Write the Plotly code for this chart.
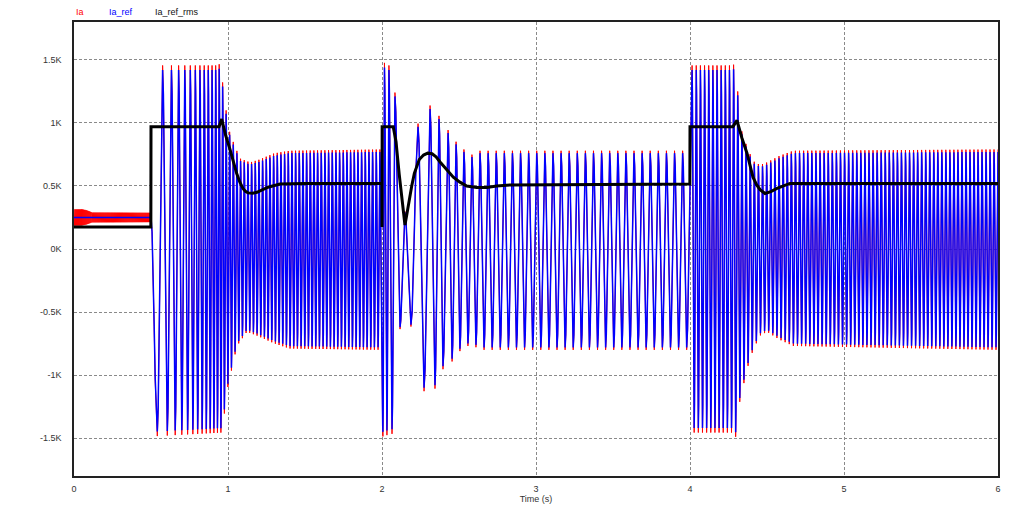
import numpy as np
import plotly.graph_objects as go

# ---------------- values (time in s, current in kA) ----------------
# Ia_ref_rms polyline
rms_t = [0.0, 0.499, 0.5, 0.942, 0.959, 0.985, 1.013, 1.035, 1.056, 1.077, 1.097, 1.113, 1.130, 1.160,
         1.188, 1.26, 1.338, 1.5, 1.999, 2.0, 2.001, 2.073, 2.091, 2.112, 2.134, 2.149, 2.162, 2.177,
         2.193, 2.210, 2.242, 2.270, 2.297, 2.325, 2.351, 2.377, 2.420, 2.463, 2.506, 2.550, 2.615,
         2.680, 2.745, 2.831, 3.999, 4.0, 4.279, 4.305, 4.337, 4.370, 4.409, 4.432, 4.455, 4.487,
         4.525, 4.565, 4.649, 4.75, 6.0]
rms_v = [0.175, 0.175, 0.97, 0.97, 1.03, 0.90, 0.79, 0.69, 0.60, 0.53, 0.48, 0.458, 0.445, 0.443,
         0.45, 0.49, 0.515, 0.52, 0.52, 0.175, 0.97, 0.97, 0.85, 0.59, 0.35, 0.19, 0.28, 0.40,
         0.50, 0.60, 0.71, 0.745, 0.76, 0.755, 0.73, 0.69, 0.63, 0.57, 0.53, 0.50, 0.487,
         0.487, 0.50, 0.508, 0.515, 0.97, 0.97, 1.02, 0.88, 0.76, 0.57, 0.51, 0.47, 0.44,
         0.455, 0.48, 0.52, 0.52, 0.52]

# 0 - 0.5 s : Ia_ref DC level and Ia ripple band half-width
pre_level = 0.25
pre_env_t = [0.0, 0.05, 0.08, 0.10, 0.115, 0.5]
pre_env_h = [0.064, 0.064, 0.056, 0.047, 0.039, 0.037]
pre_ripple_hz = [300.0, 300.0]

# 0.5 - 2.0 s : frequency and envelope
segA_f_t = [0.5, 0.6, 0.7, 0.8, 0.9, 0.95, 1.05, 2.0]
segA_f_v = [11.0, 17.0, 25.0, 33.0, 42.0, 45.0, 42.0, 42.0]
segA_up_t = [0.5, 0.94, 0.955, 0.97, 1.013, 1.078, 1.143, 1.2, 1.3, 1.4, 2.0]
segA_up_v = [1.42, 1.42, 1.47, 1.20, 0.89, 0.70, 0.67, 0.69, 0.74, 0.76, 0.77]
segA_lo_t = [0.5, 0.96, 1.0, 1.058, 1.123, 1.188, 1.3, 1.4, 2.0]
segA_lo_v = [-1.45, -1.42, -1.06, -0.75, -0.64, -0.67, -0.73, -0.77, -0.78]

# 2.0 - 2.61 s : individual extrema of Ia_ref
segB_ext_t = [2.006, 2.016, 2.032, 2.045, 2.065, 2.084, 2.117, 2.149, 2.188, 2.234, 2.273, 2.312,
              2.344, 2.370, 2.396, 2.429, 2.455, 2.481, 2.506, 2.532, 2.558, 2.584, 2.610]
segB_ext_v = [-1.45, 1.44, -1.44, 1.42, -1.43, 1.21, -0.62, 0.29, -0.60, 0.97, -1.10, 1.11,
              -1.08, 1.03, -0.93, 0.92, -0.87, 0.83, -0.79, 0.77, -0.75, 0.73, -0.76]
# 2.61 - 4.0 s : steady part
segB_f_t = [2.61, 4.0]
segB_f_v = [19.0, 19.0]
segB_up_t = [2.61, 4.0]
segB_up_v = [0.76, 0.76]
segB_lo_t = [2.61, 4.0]
segB_lo_v = [-0.78, -0.78]

# 4.0 - 6.0 s
segC_f_t = [4.0, 6.0]
segC_f_v = [37.0, 38.5]
segC_up_t = [4.0, 4.28, 4.30, 4.32, 4.37, 4.41, 4.455, 4.5, 4.58, 4.67, 6.0]
segC_up_v = [1.42, 1.42, 1.46, 0.97, 0.79, 0.68, 0.65, 0.67, 0.72, 0.76, 0.77]
segC_lo_t = [4.0, 4.28, 4.305, 4.32, 4.37, 4.41, 4.455, 4.5, 4.58, 4.67, 6.0]
segC_lo_v = [-1.42, -1.42, -1.47, -1.20, -0.93, -0.78, -0.67, -0.64, -0.70, -0.75, -0.78]

# Ia vs Ia_ref (red slightly larger at the peaks)
ia_gain = 1.025

y_tickvals = [-1.5, -1.0, -0.5, 0.0, 0.5, 1.0, 1.5]
y_ticktext = ["-1.5K", "-1K", "-0.5K", "0K", "0.5K", "1K", "1.5K"]
x_tickvals = [0, 1, 2, 3, 4, 5, 6]
x_ticktext = ["0", "1", "2", "3", "4", "5", "6"]


# ---------------- helpers ----------------
def extrema_times(t0, t1, f_t, f_v):
    tt = np.linspace(t0, t1, 40001)
    f = np.interp(tt, f_t, f_v)
    ph = np.concatenate([[0.0], np.cumsum(0.5 * (f[1:] + f[:-1]) * np.diff(tt))])
    k = np.arange(1, int(ph[-1] * 2) + 1)
    return np.interp(k * 0.5, ph, tt), k


def seg_extrema(t0, t1, f_t, f_v, up_t, up_v, lo_t, lo_v, first_peak):
    et, k = extrema_times(t0, t1, f_t, f_v)
    is_peak = (k % 2 == 1) if first_peak else (k % 2 == 0)
    ev = np.where(is_peak, np.interp(et, up_t, up_v), np.interp(et, lo_t, lo_v))
    return list(et), list(ev)


def wave(ext_t, ext_v, n=6):
    ts, vs = [ext_t[0]], [ext_v[0]]
    s = np.linspace(0, 1, n + 1)[1:]
    for i in range(len(ext_t) - 1):
        ts.extend(ext_t[i] + (ext_t[i + 1] - ext_t[i]) * s)
        vs.extend(ext_v[i] + (ext_v[i + 1] - ext_v[i]) * (1 - np.cos(np.pi * s)) / 2)
    return np.array(ts), np.array(vs)


# ---------------- build Ia_ref extrema ----------------
aT, aV = seg_extrema(0.5, 2.0, segA_f_t, segA_f_v, segA_up_t, segA_up_v, segA_lo_t, segA_lo_v, False)
bT, bV = seg_extrema(2.61, 4.0, segB_f_t, segB_f_v, segB_up_t, segB_up_v, segB_lo_t, segB_lo_v, True)
cT, cV = seg_extrema(4.0, 6.0, segC_f_t, segC_f_v, segC_up_t, segC_up_v, segC_lo_t, segC_lo_v, True)

ext_t = [0.5] + aT + segB_ext_t + bT + cT
ext_v = [pre_level] + aV + segB_ext_v + bV + cV
wt, wv = wave(ext_t, ext_v, n=6)

ref_t = np.concatenate([[0.0], wt])
ref_v = np.concatenate([[pre_level], wv])

# Ia: ripple band before 0.5 s, then a slightly larger copy
rt, rk = extrema_times(0.0, 0.5, [0.0, 0.5], pre_ripple_hz)
rh = np.interp(rt, pre_env_t, pre_env_h)
rip_v = pre_level + np.where(rk % 2 == 1, rh, -rh)
ia_t = np.concatenate([[0.0], rt, wt[1:]])
ia_v = np.concatenate([[pre_level + pre_env_h[0]], rip_v, wv[1:] * ia_gain])

# ---------------- figure ----------------
fig = go.Figure()
fig.add_trace(go.Scatter(x=ia_t, y=ia_v, mode="lines", name="Ia",
                         line=dict(color="#FF0000", width=1), hoverinfo="skip"))
fig.add_trace(go.Scatter(x=ref_t, y=ref_v, mode="lines", name="Ia_ref",
                         line=dict(color="#0000FF", width=1.5), hoverinfo="skip"))
fig.add_trace(go.Scatter(x=rms_t, y=rms_v, mode="lines", name="Ia_ref_rms",
                         line=dict(color="#000000", width=3), hoverinfo="skip"))

font_family = "Liberation Sans, Arial, sans-serif"
fig.update_layout(
    width=1024, height=519,
    margin=dict(l=74, r=26, t=22, b=43),
    plot_bgcolor="white", paper_bgcolor="white",
    showlegend=False,
    font=dict(family=font_family, size=9, color="#333333"),
)
fig.update_xaxes(
    range=[0, 6], tickvals=x_tickvals, ticktext=x_ticktext,
    showgrid=True, gridcolor="#8a8a8a", gridwidth=1, griddash="3px,2px",
    showline=True, linecolor="#222222", linewidth=1.5, mirror=True,
    zeroline=False, ticks="", ticklabelstandoff=3,
    title=dict(text="Time (s)", font=dict(size=9, color="#333333"), standoff=0),
)
fig.update_yaxes(
    range=[-1.8, 1.8], tickvals=y_tickvals, ticktext=y_ticktext,
    showgrid=True, gridcolor="#8a8a8a", gridwidth=1, griddash="3px,2px",
    showline=True, linecolor="#222222", linewidth=1.5, mirror=True,
    zeroline=False, ticks="", ticklabelstandoff=9,
)

legend_items = [("Ia", "#FF0000", 74), ("Ia_ref", "#0000FF", 107), ("Ia_ref_rms", "#111111", 153)]
for txt, col, px in legend_items:
    fig.add_annotation(text=txt, xref="paper", yref="paper",
                       x=(px - 74) / 924.0, y=(476 - 11.5) / 454.0,
                       xanchor="left", yanchor="middle", showarrow=False,
                       font=dict(family=font_family, size=9, color=col))

fig.write_html("out.html", config={"displayModeBar": False},
               post_script="document.body.style.margin='0';document.body.style.overflow='hidden';")
